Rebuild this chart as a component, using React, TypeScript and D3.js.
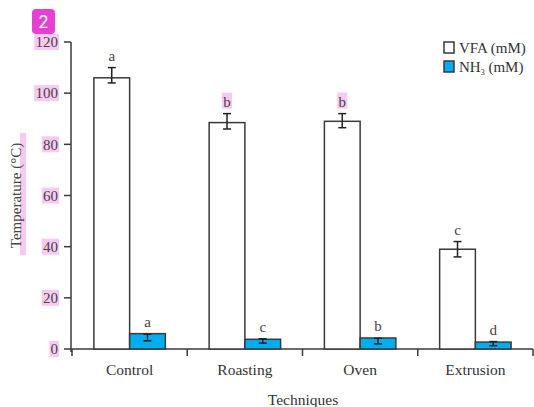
import React from 'react'
import * as d3 from 'd3'

const techniques = ['Control', 'Roasting', 'Oven', 'Extrusion']
const seriesNames = ['VFA (mM)', 'NH3 (mM)']
const vfa = [106, 88.5, 89, 39]
const vfaErrHigh = [110, 92, 92, 42]
const vfaErrLow = [104, 86, 86.5, 36]
const vfaLetters = ['a', 'b', 'b', 'c']
const nh3 = [6, 3.8, 4.3, 2.7]
const nh3ErrHigh = [5.8, 4, 4.2, 2.9]
const nh3ErrLow = [3.2, 2.3, 2, 1.3]
const nh3Letters = ['a', 'c', 'b', 'd']
const yTicks = [0, 20, 40, 60, 80, 100, 120]

const W = 534
const H = 407
const margin = { top: 42, right: 1, bottom: 58, left: 72 }
const font = '"Liberation Serif", "Times New Roman", serif'
const ink = '#3a3a3a'
const pink = '#f8c9f3'
const blue = '#00aeef'

export default function App() {
  const x = d3
    .scaleBand<string>()
    .domain(techniques)
    .range([margin.left, W - margin.right])
    .paddingInner(0.38)
    .paddingOuter(0.19)
  const step = x.step()
  const bw = x.bandwidth() / 2
  const y = d3.scaleLinear().domain([0, 120]).range([H - margin.bottom, margin.top])
  const y0 = y(0)
  const boundaries = d3.range(techniques.length + 1).map((i) => margin.left + i * step)

  const series = [
    { vals: vfa, hi: vfaErrHigh, lo: vfaErrLow, letters: vfaLetters, fill: '#fff', off: 0 },
    { vals: nh3, hi: nh3ErrHigh, lo: nh3ErrLow, letters: nh3Letters, fill: blue, off: bw },
  ]

  return (
    <svg
      width={W}
      height={H}
      style={{ position: 'absolute', left: 0, top: 0, background: '#fff' }}
      fontFamily={font}
    >
      {/* badge */}
      <rect x={32} y={9} width={23} height={25} rx={4} fill="#e53fd4" />
      <text x={43.5} y={28} textAnchor="middle" fill="#fff" fontSize={17} fontFamily="Inter, sans-serif">
        2
      </text>

      {/* y axis */}
      <line x1={margin.left - 1} x2={margin.left - 1} y1={margin.top} y2={y0 + 3} stroke={ink} strokeWidth={1.5} />
      {yTicks.map((t) => (
        <g key={t} transform={`translate(0,${y(t)})`}>
          <line x1={margin.left - 8} x2={margin.left - 1} stroke={ink} strokeWidth={1.5} />
          <rect
            x={58 - String(t).length * 7.6 - 1}
            y={-8}
            width={String(t).length * 7.6 + 2}
            height={16}
            fill={pink}
          />
          <text x={58} dy="0.35em" textAnchor="end" fontSize={15} fill="#444">
            {t}
          </text>
        </g>
      ))}
      <rect x={20} y={133} width={6} height={122} fill={pink} />
      <text
        transform={`translate(21,${(margin.top + y0) / 2}) rotate(-90)`}
        textAnchor="middle"
        fontSize={15}
        fill="#444"
      >
        Temperature (°C)
      </text>

      {/* x axis */}
      <line x1={margin.left - 2} x2={W - margin.right} y1={y0} y2={y0} stroke={ink} strokeWidth={1.5} />
      {boundaries.map((b, i) => (
        <line key={i} x1={b} x2={b} y1={y0} y2={y0 + 7} stroke={ink} strokeWidth={1.5} />
      ))}
      {techniques.map((t) => (
        <text key={t} x={(x(t) ?? 0) + x.bandwidth() / 2} y={375} textAnchor="middle" fontSize={15.5} fill="#333">
          {t}
        </text>
      ))}
      <text x={(margin.left + W) / 2} y={405} textAnchor="middle" fontSize={15.5} fill="#333">
        Techniques
      </text>

      {/* bars */}
      {series.map((s, si) =>
        techniques.map((t, i) => {
          const bx = (x(t) ?? 0) + s.off
          const cx = bx + bw / 2
          const yt = y(s.vals[i])
          const yh = y(s.hi[i])
          const yl = y(s.lo[i])
          const isB = s.letters[i] === 'b' && si === 0
          return (
            <g key={`${si}-${t}`}>
              <rect x={bx} y={yt} width={bw} height={y0 - yt} fill={s.fill} stroke={ink} strokeWidth={1.5} />
              <line x1={cx} x2={cx} y1={yh} y2={yl} stroke="#222" strokeWidth={1.5} />
              <line x1={cx - 4} x2={cx + 4} y1={yh} y2={yh} stroke="#222" strokeWidth={1.5} />
              <line x1={cx - 4} x2={cx + 4} y1={yl} y2={yl} stroke="#222" strokeWidth={1.5} />
              {isB && <rect x={cx - 5} y={yh - 21} width={10} height={16} fill={pink} />}
              <text x={cx} y={yh - 7} textAnchor="middle" fontSize={15} fill="#444">
                {s.letters[i]}
              </text>
            </g>
          )
        })
      )}

      {/* legend */}
      {seriesNames.map((n, i) => (
        <g key={n} transform={`translate(444,${42 + i * 19})`}>
          <rect x={0} y={0} width={10} height={11} fill={i === 0 ? '#fff' : blue} stroke={ink} strokeWidth={1.5} />
          <text x={15} y={10.5} fontSize={15} fill="#333">
            {i === 0 ? (
              n
            ) : (
              <>
                NH<tspan fontSize={8} dy={3}>3</tspan>
                <tspan dy={-3}> (mM)</tspan>
              </>
            )}
          </text>
        </g>
      ))}
    </svg>
  )
}
